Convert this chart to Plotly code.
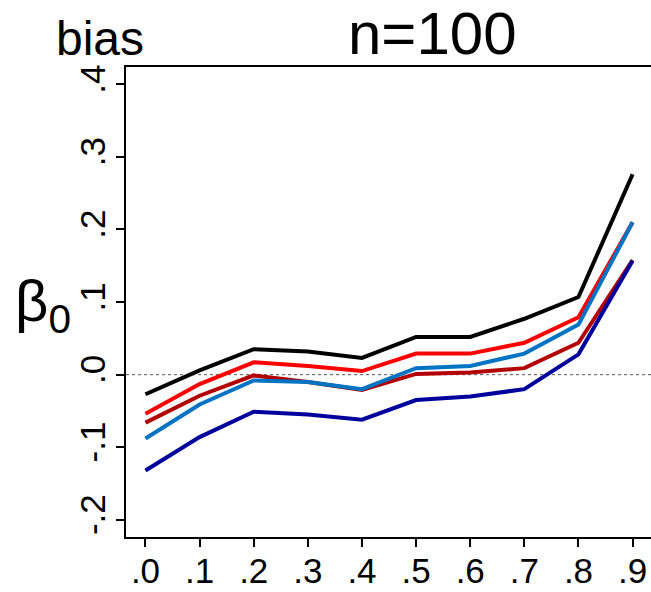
import plotly.graph_objects as go

# correlation grid on the x axis
rho = [0.0, 0.1, 0.2, 0.3, 0.4, 0.5, 0.6, 0.7, 0.8, 0.9]
x_tick_text = [".0", ".1", ".2", ".3", ".4", ".5", ".6", ".7", ".8", ".9"]

y_tick_vals = [-0.2, -0.1, 0.0, 0.1, 0.2, 0.3, 0.4]
y_tick_text = ["-.2", "-.1", ".0", ".1", ".2", ".3", ".4"]

# bias of the intercept estimate for each method
bias_black = [-0.027, 0.006, 0.035, 0.032, 0.023, 0.052, 0.052, 0.077, 0.107, 0.276]
bias_red = [-0.054, -0.013, 0.017, 0.012, 0.005, 0.029, 0.029, 0.044, 0.079, 0.210]
bias_darkred = [-0.066, -0.029, -0.001, -0.010, -0.021, 0.001, 0.003, 0.009, 0.044, 0.158]
bias_blue = [-0.088, -0.041, -0.008, -0.010, -0.020, 0.009, 0.012, 0.029, 0.069, 0.210]
bias_navy = [-0.132, -0.086, -0.051, -0.055, -0.062, -0.035, -0.030, -0.020, 0.028, 0.157]

series = [
    (bias_black, "#000000"),
    (bias_red, "#FF0000"),
    (bias_darkred, "#B30000"),
    (bias_blue, "#0073C2"),
    (bias_navy, "#00009C"),
]

fig = go.Figure()
for values, color in series:
    fig.add_trace(go.Scatter(
        x=rho, y=values, mode="lines",
        line=dict(color=color, width=4),
        showlegend=False, hoverinfo="skip",
    ))

# dotted reference line at zero bias
fig.add_shape(type="line", xref="paper", yref="y", x0=0, x1=1, y0=0, y1=0,
              line=dict(color="#555555", width=1, dash="dot"), layer="below")

axis_font = dict(family="Liberation Sans, Arial, sans-serif", size=35, color="#000000")

fig.update_xaxes(
    range=[-0.036, 0.934], tickvals=rho, ticktext=x_tick_text,
    showline=True, linecolor="#000000", linewidth=1.5, mirror=True,
    ticks="outside", ticklen=8, tickwidth=1.5, tickcolor="#000000",
    showgrid=False, zeroline=False, tickfont=axis_font, automargin=False,
    ticklabelstandoff=-6,
)
fig.update_yaxes(
    range=[-0.2236, 0.4238], tickvals=y_tick_vals, ticktext=y_tick_text,
    showline=True, linecolor="#000000", linewidth=1.5, mirror=False,
    ticks="outside", ticklen=8, tickwidth=1.5, tickcolor="#000000",
    showgrid=False, zeroline=False, tickfont=axis_font, tickangle=-90,
    automargin=False, ticklabelstandoff=-3,
)

fig.add_annotation(text="n=100", xref="paper", yref="paper",
                   x=(432 - 126) / 525, y=1 + (67 - 33) / 470,
                   xanchor="center", yanchor="middle", showarrow=False,
                   font=dict(family="Liberation Sans, Arial, sans-serif", size=60, color="#000000"))
fig.add_annotation(text="bias", xref="paper", yref="paper",
                   x=(100 - 126) / 525, y=1 + (67 - 38) / 470,
                   xanchor="center", yanchor="middle", showarrow=False,
                   font=dict(family="Liberation Sans, Arial, sans-serif", size=48, color="#000000"))
fig.add_annotation(text="β<sub>0</sub>", xref="paper", yref="paper",
                   x=(43 - 126) / 525, y=(537 - 305) / 470,
                   xanchor="center", yanchor="middle", showarrow=False,
                   font=dict(family="Liberation Sans, Arial, sans-serif", size=58, color="#000000"))

fig.update_layout(
    width=651, height=592,
    margin=dict(l=126, r=0, t=67, b=55, pad=0),
    paper_bgcolor="#FFFFFF", plot_bgcolor="#FFFFFF",
)

fig.write_html("out.html")
